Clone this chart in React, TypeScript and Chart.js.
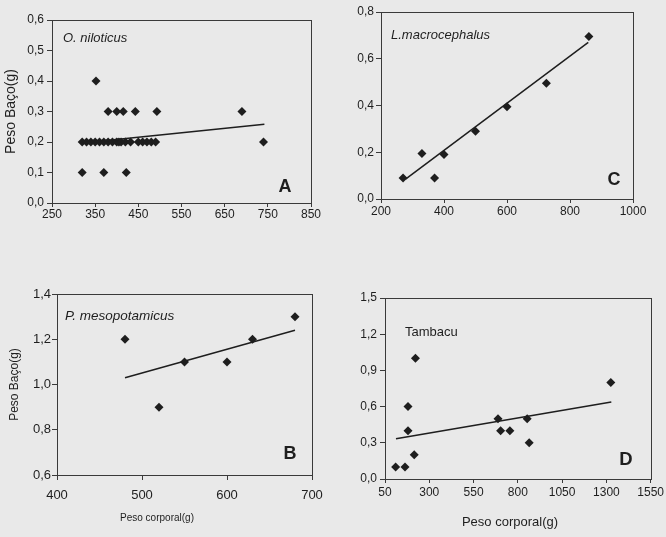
import React, { useEffect, useRef } from "react";
import { Chart, registerables } from "chart.js";

Chart.register(...registerables);

// ---------------- Data ----------------
// Panel A – O. niloticus
const aBodyWeight = [352, 380, 400, 415, 443, 493, 690, 320, 330, 340, 350, 360, 370, 380, 390, 400, 405, 410, 420, 432, 450, 460, 470, 480, 490, 740, 320, 370, 422];
const aSpleenWeight = [0.4, 0.3, 0.3, 0.3, 0.3, 0.3, 0.3, 0.2, 0.2, 0.2, 0.2, 0.2, 0.2, 0.2, 0.2, 0.2, 0.2, 0.2, 0.2, 0.2, 0.2, 0.2, 0.2, 0.2, 0.2, 0.2, 0.1, 0.1, 0.1];
const aTrendX = [320, 742];
const aTrendY = [0.197, 0.258];

// Panel B – P. mesopotamicus
const bBodyWeight = [480, 520, 550, 600, 630, 680];
const bSpleenWeight = [1.2, 0.9, 1.1, 1.1, 1.2, 1.3];
const bTrendX = [480, 680];
const bTrendY = [1.03, 1.24];

// Panel C – L. macrocephalus
const cBodyWeight = [270, 330, 370, 400, 500, 600, 725, 860];
const cSpleenWeight = [0.09, 0.195, 0.09, 0.19, 0.29, 0.395, 0.495, 0.695];
const cTrendX = [278, 858];
const cTrendY = [0.085, 0.67];

// Panel D – Tambacu
const dBodyWeight = [110, 163, 180, 180, 215, 222, 688, 703, 755, 853, 864, 1325];
const dSpleenWeight = [0.1, 0.1, 0.6, 0.4, 0.2, 1.0, 0.5, 0.4, 0.4, 0.5, 0.3, 0.8];
const dTrendX = [112, 1328];
const dTrendY = [0.333, 0.638];

// Axis ranges / tick steps
const aXRange = [250, 850, 100];
const aYRange = [0, 0.6, 0.1];
const bXRange = [400, 700, 100];
const bYRange = [0.6, 1.4, 0.2];
const cXRange = [200, 1000, 200];
const cYRange = [0, 0.8, 0.2];
const dXRange = [50, 1550, 250];
const dYRange = [0, 1.5, 0.3];

const yTitleText = "Peso Baço(g)";
const xTitleText = "Peso corporal(g)";

// ---------------- Styling ----------------
const INK = "#1e1e1e";
const BG = "#e9e9e9";
const FAMILY = '"Liberation Sans", Arial, Helvetica, sans-serif';

type Note = { text: string; x: number; y: number; font: string; align?: CanvasTextAlign };

type Spec = {
  left: number; top: number; width: number; height: number;
  padTop: number; padRight: number; yWidth: number; xHeight: number;
  xr: number[]; yr: number[];
  xs: number[]; ys: number[]; tx: number[]; ty: number[];
  tickFont: number; xTickPad: number; yTickPad: number; xTickLen: number; yTickLen: number;
  yTitle?: { size: number; pad: number };
  notes: Note[];
};

const specs: Spec[] = [
  {
    left: 0, top: 0, width: 333, height: 240,
    padTop: 20, padRight: 22, yWidth: 52, xHeight: 37,
    xr: aXRange, yr: aYRange, xs: aBodyWeight, ys: aSpleenWeight, tx: aTrendX, ty: aTrendY,
    tickFont: 12, xTickPad: 0, yTickPad: 3, xTickLen: 4, yTickLen: 5,
    yTitle: { size: 14, pad: 3 },
    notes: [
      { text: "O. niloticus", x: 63, y: 38, font: `italic 13px ${FAMILY}` },
      { text: "A", x: 285, y: 187, font: `bold 18px ${FAMILY}`, align: "center" },
    ],
  },
  {
    left: 333, top: 0, width: 333, height: 240,
    padTop: 12, padRight: 33, yWidth: 48, xHeight: 41,
    xr: cXRange, yr: cYRange, xs: cBodyWeight, ys: cSpleenWeight, tx: cTrendX, ty: cTrendY,
    tickFont: 12, xTickPad: 1, yTickPad: 2, xTickLen: 4, yTickLen: 5,
    notes: [
      { text: "L.macrocephalus", x: 391, y: 35, font: `italic 13px ${FAMILY}` },
      { text: "C", x: 614, y: 180, font: `bold 18px ${FAMILY}`, align: "center" },
    ],
  },
  {
    left: 0, top: 260, width: 333, height: 277,
    padTop: 34, padRight: 21, yWidth: 57, xHeight: 62,
    xr: bXRange, yr: bYRange, xs: bBodyWeight, ys: bSpleenWeight, tx: bTrendX, ty: bTrendY,
    tickFont: 13, xTickPad: 8, yTickPad: 1, xTickLen: 5, yTickLen: 5,
    yTitle: { size: 12, pad: 7 },
    notes: [
      { text: "P. mesopotamicus", x: 65, y: 316, font: `italic 13.5px ${FAMILY}` },
      { text: "B", x: 290, y: 454, font: `bold 18px ${FAMILY}`, align: "center" },
      { text: xTitleText, x: 157, y: 518, font: `10px ${FAMILY}`, align: "center" },
    ],
  },
  {
    left: 333, top: 270, width: 333, height: 267,
    padTop: 28, padRight: 15, yWidth: 52, xHeight: 58,
    xr: dXRange, yr: dYRange, xs: dBodyWeight, ys: dSpleenWeight, tx: dTrendX, ty: dTrendY,
    tickFont: 12, xTickPad: 2, yTickPad: 3, xTickLen: 4, yTickLen: 5,
    notes: [
      { text: "Tambacu", x: 405, y: 332, font: `13px ${FAMILY}` },
      { text: "D", x: 626, y: 460, font: `bold 18.5px ${FAMILY}`, align: "center" },
      { text: xTitleText, x: 510, y: 522, font: `13px ${FAMILY}`, align: "center" },
    ],
  },
];

const fmtComma = (v: number) => Number(v).toFixed(1).replace(".", ",");

function Panel({ spec }: { spec: Spec }) {
  const ref = useRef<HTMLCanvasElement | null>(null);

  useEffect(() => {
    if (!ref.current) return;
    const framePlugin = {
      id: "frameAndNotes",
      afterDraw(chart: any) {
        const c = chart.ctx as CanvasRenderingContext2D;
        const { left, top, right, bottom } = chart.chartArea;
        c.save();
        c.strokeStyle = "#3a3a3a";
        c.lineWidth = 1;
        const l = Math.round(left) + 0.5;
        const t = Math.round(top) + 0.5;
        c.strokeRect(l, t, Math.round(right) - Math.round(left), Math.round(bottom) - Math.round(top));
        c.fillStyle = INK;
        c.textBaseline = "middle";
        for (const n of spec.notes) {
          c.font = n.font;
          c.textAlign = n.align || "left";
          c.fillText(n.text, n.x - spec.left, n.y - spec.top);
        }
        c.restore();
      },
    };

    const points = spec.xs.map((x, i) => ({ x, y: spec.ys[i] }));
    const trend = spec.tx.map((x, i) => ({ x, y: spec.ty[i] }));

    const chart = new Chart(ref.current, {
      type: "scatter",
      data: {
        datasets: [
          {
            data: trend,
            showLine: true,
            borderColor: INK,
            borderWidth: 1.5,
            pointRadius: 0,
            fill: false,
          } as any,
          {
            data: points,
            pointStyle: "rectRot",
            pointRadius: 4.5,
            backgroundColor: INK,
            borderColor: INK,
            borderWidth: 0,
          } as any,
        ],
      },
      options: {
        responsive: false,
        animation: false,
        devicePixelRatio: 1,
        layout: { padding: { top: spec.padTop, right: spec.padRight, left: 0, bottom: 0 } },
        plugins: { legend: { display: false }, tooltip: { enabled: false } },
        scales: {
          x: {
            type: "linear",
            min: spec.xr[0],
            max: spec.xr[1],
            ticks: {
              stepSize: spec.xr[2],
              autoSkip: false,
              maxRotation: 0,
              padding: spec.xTickPad,
              color: INK,
              font: { size: spec.tickFont, family: FAMILY },
              callback: (v: any) => String(v),
            },
            grid: { display: true, drawOnChartArea: false, drawTicks: true, tickLength: spec.xTickLen, color: "#3a3a3a" },
            border: { display: false },
            afterFit: (s: any) => { s.height = spec.xHeight; },
          },
          y: {
            type: "linear",
            min: spec.yr[0],
            max: spec.yr[1],
            ticks: {
              stepSize: spec.yr[2],
              autoSkip: false,
              padding: spec.yTickPad,
              color: INK,
              font: { size: spec.tickFont, family: FAMILY },
              callback: (v: any) => fmtComma(v),
            },
            title: spec.yTitle
              ? {
                  display: true,
                  text: yTitleText,
                  color: INK,
                  font: { size: spec.yTitle.size, family: FAMILY },
                  padding: { top: spec.yTitle.pad, bottom: 0 },
                }
              : { display: false },
            grid: { display: true, drawOnChartArea: false, drawTicks: true, tickLength: spec.yTickLen, color: "#3a3a3a" },
            border: { display: false },
            afterFit: (s: any) => { s.width = spec.yWidth; },
          },
        },
      } as any,
      plugins: [framePlugin],
    });
    return () => chart.destroy();
  }, [spec]);

  return (
    <canvas
      ref={ref}
      width={spec.width}
      height={spec.height}
      style={{ position: "absolute", left: spec.left, top: spec.top, width: spec.width, height: spec.height }}
    />
  );
}

export default function App() {
  return (
    <div
      style={{
        position: "absolute",
        left: 0,
        top: 0,
        width: 666,
        height: 537,
        background: BG,
        overflow: "hidden",
      }}
    >
      {specs.map((s, i) => (
        <Panel key={i} spec={s} />
      ))}
    </div>
  );
}
